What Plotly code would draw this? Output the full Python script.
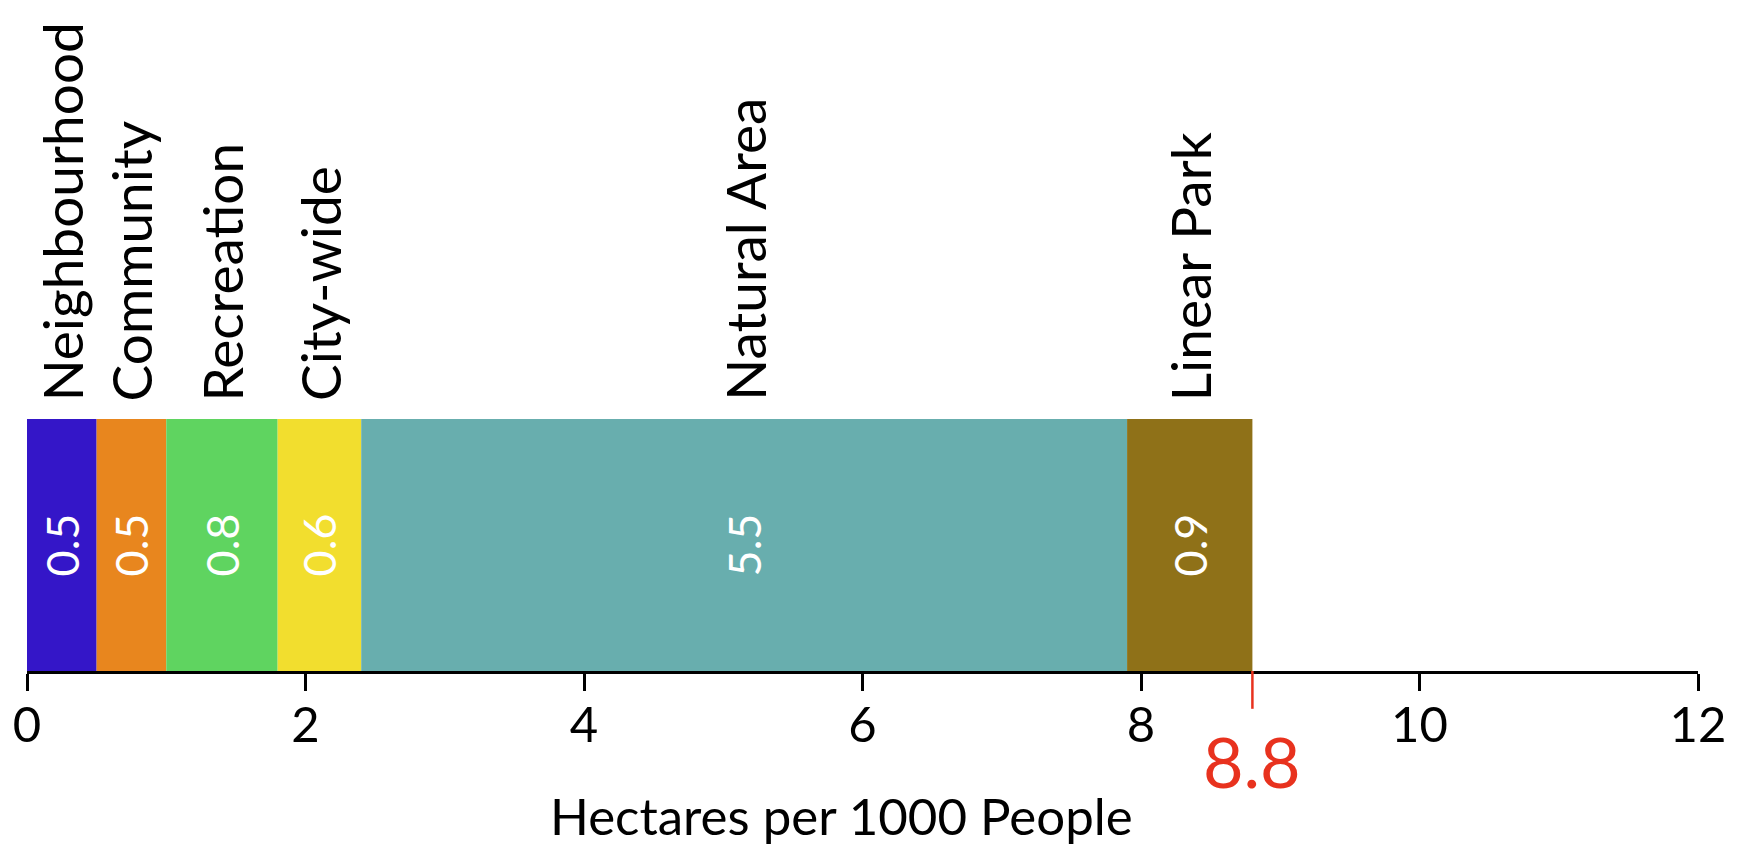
import plotly.graph_objects as go

# Park classes and provision (hectares per 1000 people)
categories = ["Neighbourhood", "Community", "Recreation", "City-wide", "Natural Area", "Linear Park"]
values = [0.5, 0.5, 0.8, 0.6, 5.5, 0.9]
colors = ["#3416C8", "#E8861E", "#5FD460", "#F2DE2E", "#68AEAE", "#8F7118"]
tick_values = [0, 2, 4, 6, 8, 10, 12]
total = round(sum(values), 1)

FONT = "Lato"

fig = go.Figure()

starts = []
acc = 0.0
for name, v, c in zip(categories, values, colors):
    starts.append(acc)
    fig.add_trace(go.Bar(
        x=[v], y=[0], base=[acc], orientation="h", name=name,
        marker=dict(color=c, line=dict(width=0)),
        width=1.0,
        text=[f"{v:.1f}"], textposition="inside", insidetextanchor="middle",
        textangle=-90, constraintext="none",
        textfont=dict(color="white", size=45, family=FONT),
        hoverinfo="skip",
    ))
    acc += v

# Category names rotated above each segment
for name, s, v in zip(categories, starts, values):
    fig.add_annotation(
        x=s + v / 2, y=1, xref="x", yref="paper",
        text=name, textangle=-90, showarrow=False,
        xanchor="center", yanchor="bottom", yshift=16,
        font=dict(size=55, color="black", family=FONT),
    )

# Total marker on the axis
fig.add_shape(type="line", xref="x", yref="paper",
              x0=total, x1=total, y0=0, y1=-0.15,
              line=dict(color="#E8321E", width=2.5))
fig.add_annotation(
    x=total, y=0, xref="x", yref="paper", text=f"{total}",
    showarrow=False, xanchor="center", yanchor="middle", yshift=-90,
    font=dict(size=70, color="#E8321E", family=FONT),
)

# Axis title
fig.add_annotation(
    x=5.85, y=0, xref="x", yref="paper", text="Hectares per 1000 People",
    showarrow=False, xanchor="center", yanchor="bottom", yshift=-177,
    font=dict(size=51, color="black", family=FONT),
)

fig.update_layout(
    barmode="overlay",
    width=1738, height=850,
    margin=dict(l=27, r=31, t=419, b=179),
    paper_bgcolor="white", plot_bgcolor="white",
    showlegend=False,
    font=dict(family=FONT),
    xaxis=dict(
        range=[0, 12], tickvals=tick_values, ticktext=[str(t) for t in tick_values],
        showgrid=False, zeroline=False,
        showline=True, linecolor="black", linewidth=2.5,
        ticks="outside", ticklen=17, tickwidth=2.5, tickcolor="black",
        tickfont=dict(size=49, color="black", family=FONT),
        ticklabelstandoff=-8,
        fixedrange=True,
    ),
    yaxis=dict(range=[-0.5, 0.5], visible=False, fixedrange=True),
)

fig.write_html("out.html")
